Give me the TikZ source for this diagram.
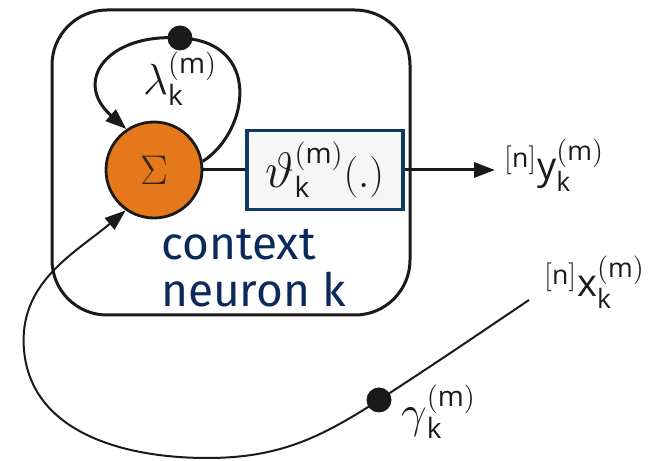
\documentclass[tikz,border=0pt]{standalone}
\usepackage{graphicx}
\usepackage{fontspec}
\setmathsf{Open Sans}
\newfontfamily\ctxfont{Fira Sans}
\usetikzlibrary{arrows.meta}
\definecolor{orng}{HTML}{E5781A}
\definecolor{navy}{HTML}{0B2A5B}
\definecolor{boxblue}{HTML}{0D3B66}
\definecolor{boxfill}{HTML}{F6F6F6}
\definecolor{ink}{HTML}{1A1A1A}
\newcommand{\twice}[1]{\scalebox{2}{#1}}
\newcommand{\grk}[2]{\scalebox{#1}{$#2$}}
\begin{document}
\begin{tikzpicture}[x=1pt,y=1pt,
  wire/.style={draw=ink, line width=3pt},
  thinwire/.style={draw=ink, line width=2pt},
  tip/.style={-{Triangle[length=21pt,width=15pt]}},
  blob/.style={circle, fill=ink, minimum size=25pt, inner sep=0pt},
  lbl/.style={font=\fontsize{20}{22}\selectfont, inner sep=0pt, text=ink},
  biglbl/.style={font=\fontsize{19}{21}\selectfont, inner sep=0pt, text=ink}]
\useasboundingbox (0,0) rectangle (654,461);
\node[draw=ink, line width=3pt, rounded corners=55pt, minimum width=358pt, minimum height=305pt] (ctx) at (231,298.5) {};
\node[circle, draw=ink, line width=2.8pt, fill=orng, minimum size=96pt, inner sep=0pt, font=\fontsize{22}{23}\selectfont, text=ink!85!orng] (sig) at (154,291) {\twice{$\Sigma$}};
\node[draw=boxblue, line width=3.4pt, fill=boxfill, minimum width=156pt, minimum height=79pt, lbl] (fn) at (325,291) {\twice{$\grk{1.2}{\vartheta}_{\mathsf{k}}^{\mathsf{(m)}}(.)$}};
\draw[wire] (sig) -- (fn);
\coordinate (yend) at (495,291);
\draw[wire,tip] (fn) -- (yend);
\node[biglbl, anchor=base west] (ylab) at (504,281) {\twice{${}^{\mathsf{[n]}}\mathsf{y}_{\mathsf{k}}^{\mathsf{(m)}}$}};
\node[biglbl, anchor=base west] (xlab) at (544,164) {\twice{${}^{\mathsf{[n]}}\mathsf{x}_{\mathsf{k}}^{\mathsf{(m)}}$}};
\node[font=\ctxfont\fontsize{46}{47}\selectfont, text=navy, anchor=base west, align=left, inner sep=0pt] (cname) at (161,154) {context\\neuron k};
% self loop
\node[blob] (ldot) at (180,423) {};
\draw[wire,tip] (sig.10) .. controls (250,330) and (262,420) .. (ldot.center) .. controls (108,428) and (72,380) .. (sig.124);
\node[lbl, anchor=base west] (llab) at (143,366) {\twice{$\grk{1.05}{\lambda}_{\mathsf{k}}^{\mathsf{(m)}}$}};
% input path
\coordinate (xs) at (529,161);
\node[blob] (gdot) at (379,61) {};
\coordinate (bot) at (207,3);
\coordinate (lft) at (24,111);
\draw[thinwire,tip] (xs) to[out=214,in=33] (gdot.center) to[out=213,in=0] (bot) to[out=180,in=-85] (lft) to[out=95,in=220] (sig.235);
\node[lbl, anchor=base west] (glab) at (401,33) {\twice{$\grk{1.1}{\gamma}_{\mathsf{k}}^{\mathsf{(m)}}$}};
\end{tikzpicture}
\end{document}
